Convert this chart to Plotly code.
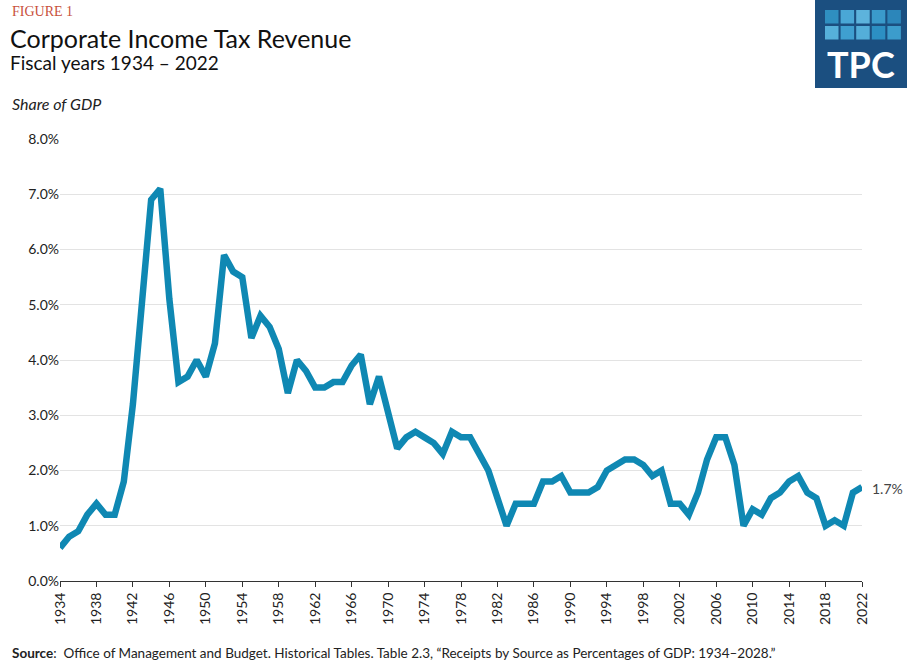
import plotly.graph_objects as go

years = list(range(1934, 2023))
values = [0.6,0.8,0.9,1.2,1.4,1.2,1.2,1.8,3.2,5.2,6.9,7.1,5.1,3.6,3.7,4.0,3.7,4.3,5.9,5.6,
          5.5,4.4,4.8,4.6,4.2,3.4,4.0,3.8,3.5,3.5,3.6,3.6,3.9,4.1,3.2,3.7,3.1,2.4,2.6,2.7,
          2.6,2.5,2.3,2.7,2.6,2.6,2.3,2.0,1.5,1.0,1.4,1.4,1.4,1.8,1.8,1.9,1.6,1.6,1.6,1.7,
          2.0,2.1,2.2,2.2,2.1,1.9,2.0,1.4,1.4,1.2,1.6,2.2,2.6,2.6,2.1,1.0,1.3,1.2,1.5,1.6,
          1.8,1.9,1.6,1.5,1.0,1.1,1.0,1.6,1.7]
tick_years = list(range(1934, 2023, 4))
y_ticks = [0,1,2,3,4,5,6,7,8]

W, H = 907, 665
L, R, T, B = 60, 45, 139, 84  # plot area: x 60..862, y 139..581
pw, ph = W - L - R, H - T - B
def px(x): return (x - L) / pw
def py(y): return (H - B - y) / ph

fig = go.Figure()
fig.add_trace(go.Scatter(x=years, y=[v/100 for v in values], mode="lines",
                         line=dict(color="#0F88B3", width=6.5), hoverinfo="x+y"))

shapes = []
shapes.append(dict(type="rect", xref="paper", yref="paper", x0=px(815), x1=px(907),
                   y0=py(88), y1=py(0), fillcolor="#1B4F80", line_width=0, layer="above"))
cols = [["#2F8FC0","#4AA7D6","#5DB3DC","#3A9ACB","#2C86BA"],
        ["#56B0DA","#3F9FD0","#54AED9","#2C8FC3","#3C9CCC"]]
for r in range(2):
    for c in range(5):
        x0 = 825 + c*15.6
        y0 = 10 + r*16
        shapes.append(dict(type="rect", xref="paper", yref="paper", x0=px(x0), x1=px(x0+13.5),
                           y0=py(y0+13.5), y1=py(y0), fillcolor=cols[r][c], line_width=0, layer="above"))

ann = [
    dict(text="FIGURE 1", x=px(10), y=py(12), font=dict(family="Liberation Serif", size=14, color="#C8503C")),
    dict(text="Corporate Income Tax Revenue", x=px(8), y=py(38), font=dict(family="Lato", size=25, color="#111")),
    dict(text="Fiscal years 1934 – 2022", x=px(8), y=py(63), font=dict(family="Lato", size=19, color="#111")),
    dict(text="<i>Share of GDP</i>", x=px(10), y=py(103), font=dict(family="Lato", size=16, color="#222")),
    dict(text="<b>Source</b>:  Office of Management and Budget. Historical Tables. Table 2.3, “Receipts by Source as Percentages of GDP: 1934–2028.”",
         x=px(10), y=py(653), font=dict(family="Lato", size=13.5, color="#222")),
    dict(text="<b>TPC</b>", x=px(861), y=py(64), xanchor="center", font=dict(family="Lato", size=36, color="white")),
    dict(text="1.7%", x=px(870), y=py(488), font=dict(family="Lato", size=14, color="#444")),
]
for a in ann:
    a.setdefault("xanchor", "left")
    a.update(xref="paper", yref="paper", yanchor="middle", showarrow=False)

fig.update_layout(
    width=W, height=H, margin=dict(l=L, r=R, t=T, b=B),
    paper_bgcolor="white", plot_bgcolor="white", showlegend=False,
    shapes=shapes, annotations=ann,
    font=dict(family="Lato", size=14, color="#222"),
    xaxis=dict(range=[1934, 2022], tickvals=tick_years, tickangle=-90, showgrid=False,
               ticks="outside", ticklen=5, tickcolor="#333", showline=True, linecolor="#333",
               linewidth=1, zeroline=False, tickfont=dict(size=14)),
    yaxis=dict(range=[0, 0.08], tickvals=[v/100 for v in y_ticks], tickformat=".1%",
               showgrid=True, gridcolor="#E3E3E3", zeroline=False, showline=False,
               ticks="", tickfont=dict(size=14)),
)
fig.write_html("out.html", config={"displayModeBar": False},
               post_script="document.body.style.margin='0';document.body.style.overflow='hidden';")
